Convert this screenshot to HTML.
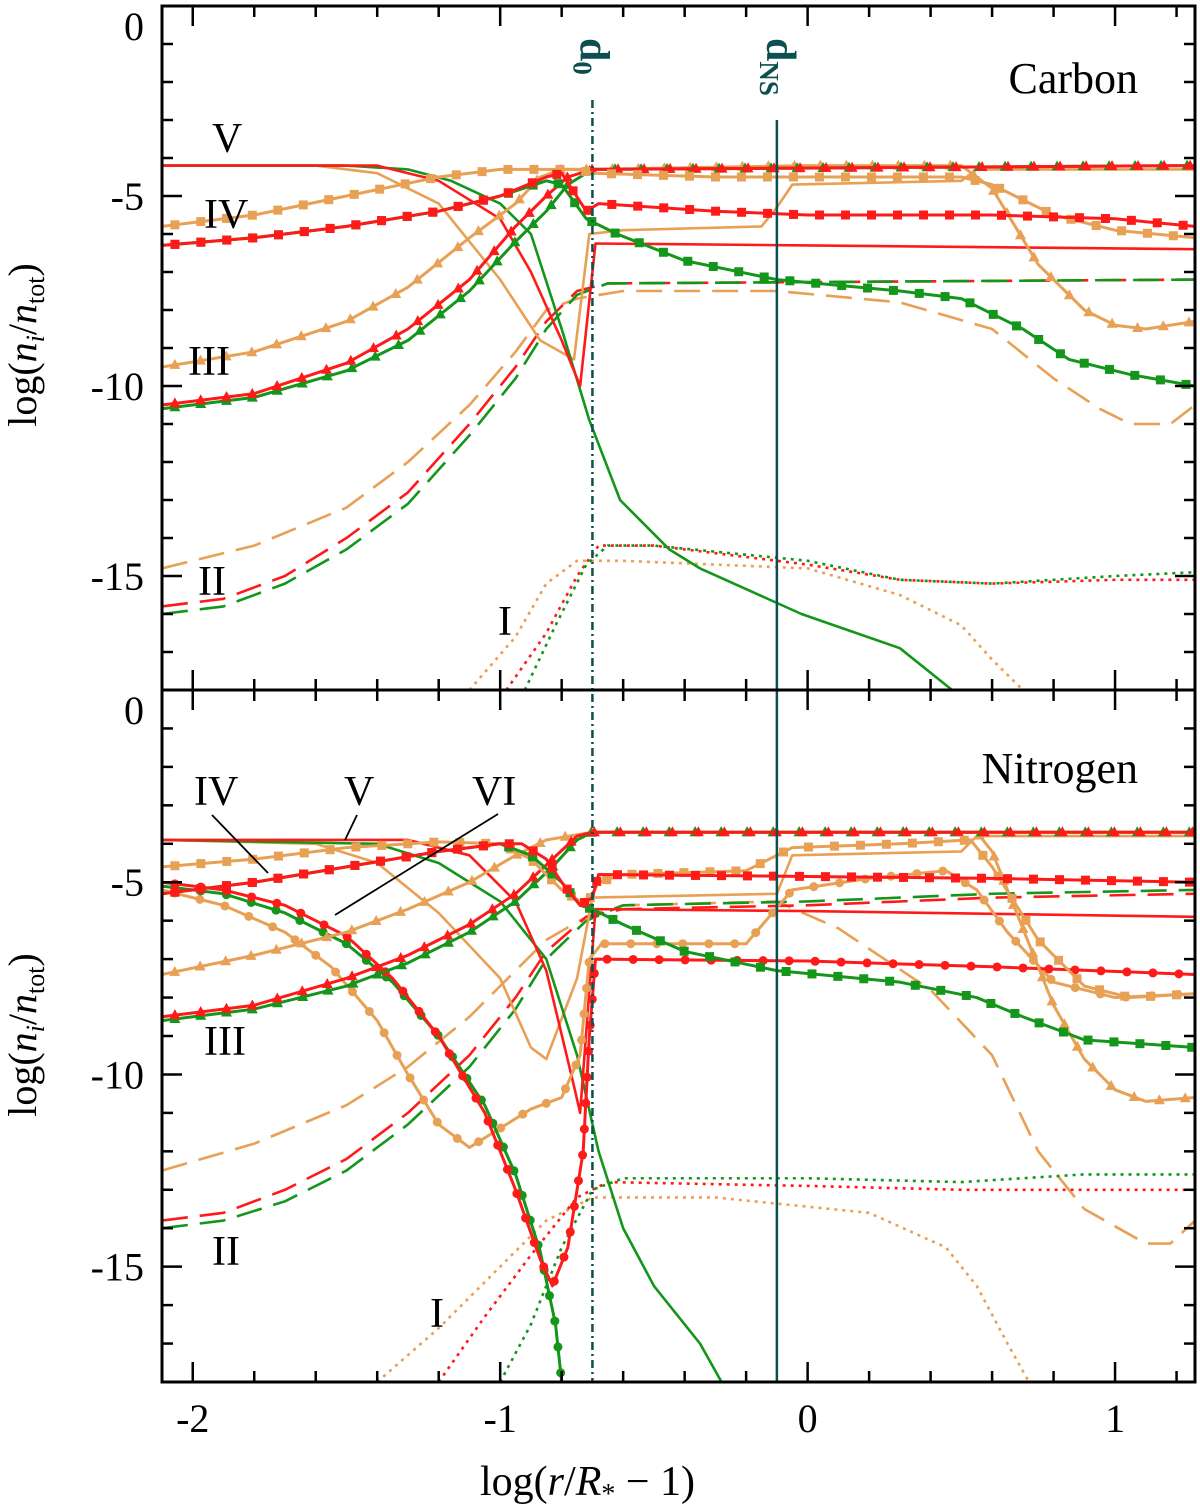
<!DOCTYPE html>
<html><head><meta charset="utf-8"><style>
body{margin:0;background:#fff}
svg{display:block;font-family:"Liberation Serif",serif}
</style></head><body>
<svg id="chart" width="1200" height="1511" viewBox="0 0 1200 1511" xmlns="http://www.w3.org/2000/svg"></svg>
<script>
// ---- data (x = log(r/R*-1), y = log(ni/ntot)) ----
const xTicks=[-2,-1,0,1];
const yTicks=[0,-5,-10,-15];
const d0X=-0.70, dnsX=-0.10;
// Carbon
const cRedV=[[-2.1,-4.2],[-1.4,-4.2],[-1.2,-4.6],[-1.0,-5.6],[-0.9,-7],[-0.8,-8.8],[-0.74,-10],[-0.69,-6.25],[0,-6.3],[1.26,-6.4]];
const cGreenV=[[-2.1,-4.2],[-1.5,-4.2],[-1.3,-4.3],[-1.16,-4.6],[-1.0,-5.2],[-0.9,-6],[-0.8,-8.5],[-0.71,-10.9],[-0.61,-13],[-0.45,-14.3],[-0.35,-14.8],[-0.02,-16],[0.3,-16.9],[0.47,-18]];
const cOrangeV=[[-2.1,-4.2],[-1.6,-4.2],[-1.4,-4.4],[-1.2,-5.2],[-1.0,-7.2],[-0.87,-8.8],[-0.76,-9.3],[-0.71,-6],[-0.6,-5.9],[-0.15,-5.8],[-0.1,-5.3],[-0.05,-4.7],[0.5,-4.6],[0.55,-4.3],[1.26,-4.3]];
const cOrangeSq=[[-2.1,-5.8],[-1.8,-5.5],[-1.5,-5],[-1.2,-4.5],[-1,-4.3],[-0.85,-4.3],[-0.75,-4.3],[-0.7,-4.4],[-0.3,-4.5],[0,-4.5],[0.5,-4.5],[0.6,-4.7],[0.8,-5.5],[1.0,-5.9],[1.26,-6.1]];
const cRedSq=[[-2.1,-6.3],[-1.8,-6.1],[-1.5,-5.8],[-1.2,-5.4],[-1.0,-5],[-0.85,-4.5],[-0.8,-4.4],[-0.72,-5.4],[-0.68,-5.2],[-0.3,-5.4],[0,-5.5],[0.6,-5.5],[1,-5.6],[1.26,-5.8]];
const cGreenSq=[[-2.1,-6.3],[-1.8,-6.1],[-1.5,-5.8],[-1.2,-5.4],[-1.0,-5.0],[-0.85,-4.6],[-0.8,-4.7],[-0.72,-5.6],[-0.62,-6.0],[-0.4,-6.7],[-0.1,-7.2],[0.3,-7.5],[0.5,-7.7],[0.7,-8.5],[0.85,-9.3],[1.05,-9.7],[1.26,-10]];
const cOrangeTri=[[-2.1,-9.5],[-1.8,-9.1],[-1.5,-8.3],[-1.3,-7.4],[-1.1,-6.1],[-0.95,-5.2],[-0.87,-4.5],[-0.8,-4.3],[-0.7,-4.3],[0,-4.2],[0.5,-4.2],[0.6,-4.8],[0.75,-6.8],[0.9,-8],[1.0,-8.4],[1.1,-8.5],[1.26,-8.3]];
const cRedTri=[[-2.1,-10.5],[-1.8,-10.2],[-1.5,-9.4],[-1.3,-8.5],[-1.1,-7.2],[-0.95,-5.8],[-0.85,-5.0],[-0.78,-4.5],[-0.7,-4.3],[1.26,-4.2]];
const cGreenTri=[[-2.1,-10.6],[-1.8,-10.3],[-1.5,-9.6],[-1.3,-8.8],[-1.1,-7.5],[-0.95,-6.2],[-0.85,-5.4],[-0.78,-4.7],[-0.7,-4.3],[1.26,-4.2]];
const cOrangeDash=[[-2.1,-14.8],[-1.8,-14.2],[-1.5,-13.2],[-1.3,-12],[-1.1,-10.5],[-0.95,-9.1],[-0.85,-8],[-0.75,-7.7],[-0.6,-7.5],[-0.1,-7.5],[0.3,-7.8],[0.6,-8.5],[0.8,-9.8],[0.95,-10.6],[1.05,-11],[1.18,-11],[1.26,-10.5]];
const cRedDash=[[-2.1,-15.8],[-1.9,-15.6],[-1.7,-15],[-1.5,-14],[-1.3,-12.8],[-1.1,-11],[-0.95,-9.5],[-0.85,-8.3],[-0.75,-7.5],[-0.65,-7.3],[1.26,-7.2]];
const cGreenDash=[[-2.1,-16],[-1.9,-15.8],[-1.7,-15.2],[-1.5,-14.3],[-1.3,-13.1],[-1.1,-11.3],[-0.95,-9.8],[-0.85,-8.5],[-0.75,-7.6],[-0.65,-7.3],[1.26,-7.2]];
const cOrangeDot=[[-1.1,-18],[-0.95,-16.6],[-0.85,-15.2],[-0.75,-14.6],[-0.6,-14.6],[0,-14.8],[0.3,-15.5],[0.5,-16.3],[0.6,-17.2],[0.7,-18]];
const cRedDot=[[-0.98,-18],[-0.85,-16.5],[-0.75,-15],[-0.68,-14.2],[-0.5,-14.2],[0,-14.7],[0.3,-15.1],[0.6,-15.2],[1.0,-15.1],[1.26,-15.1]];
const cGreenDot=[[-0.92,-18],[-0.82,-16.3],[-0.72,-14.7],[-0.65,-14.2],[-0.5,-14.2],[0,-14.6],[0.3,-15.1],[0.6,-15.2],[1.0,-15],[1.26,-14.9]];
// Nitrogen
const nRedV=[[-2.1,-3.9],[-1.3,-3.9],[-1.1,-4.3],[-0.95,-5.5],[-0.85,-7.3],[-0.76,-10.3],[-0.74,-11],[-0.69,-5.7],[0,-5.75],[1.26,-5.9]];
const nGreenV=[[-2.1,-3.9],[-1.4,-4],[-1.2,-4.5],[-1,-5.5],[-0.85,-7],[-0.75,-9.5],[-0.68,-12],[-0.6,-14],[-0.5,-15.5],[-0.35,-17],[-0.28,-18]];
const nOrangeV=[[-2.1,-3.9],[-1.6,-4.0],[-1.4,-4.5],[-1.2,-5.8],[-1.0,-7.5],[-0.9,-9.3],[-0.85,-9.6],[-0.75,-7.5],[-0.7,-5.4],[-0.1,-5.3],[-0.05,-4.3],[0.5,-4.2],[0.55,-3.8],[1.26,-3.8]];
const nOrangeCirc=[[-2.1,-5.2],[-1.9,-5.6],[-1.7,-6.3],[-1.55,-7.2],[-1.4,-8.6],[-1.3,-10],[-1.2,-11.3],[-1.1,-11.9],[-1.0,-11.4],[-0.9,-10.9],[-0.8,-10.6],[-0.74,-9.5],[-0.71,-7],[-0.67,-6.6],[-0.2,-6.6],[-0.05,-5.2],[0.2,-4.9],[0.45,-4.7],[0.55,-5.2],[0.65,-6.3],[0.8,-7.6],[1.0,-8.0],[1.26,-7.9]];
const nOrangeSq=[[-2.1,-4.6],[-1.8,-4.4],[-1.5,-4.1],[-1.2,-3.95],[-1.0,-4.0],[-0.9,-4.4],[-0.8,-5.2],[-0.72,-5.6],[-0.68,-5.0],[-0.6,-4.8],[-0.2,-4.7],[-0.05,-4.1],[0.3,-4.0],[0.53,-3.9],[0.6,-4.6],[0.75,-6.5],[0.9,-7.7],[1.05,-8.0],[1.26,-7.9]];
const nRedSq=[[-2.1,-5.3],[-1.8,-5.0],[-1.5,-4.6],[-1.2,-4.2],[-1.0,-4.0],[-0.93,-4.0],[-0.85,-4.4],[-0.8,-5.0],[-0.74,-5.6],[-0.7,-5.4],[-0.68,-4.8],[0,-4.85],[0.6,-4.9],[1.26,-5.0]];
const nGreenSq=[[-2.1,-5.3],[-1.8,-5.0],[-1.5,-4.6],[-1.2,-4.2],[-1.0,-4.0],[-0.9,-4.3],[-0.8,-5.0],[-0.74,-5.6],[-0.7,-5.7],[-0.6,-6.1],[-0.4,-6.8],[-0.1,-7.3],[0.3,-7.6],[0.55,-8.0],[0.7,-8.5],[0.9,-9.1],[1.26,-9.3]];
const nRedCirc=[[-2.1,-5.0],[-1.9,-5.2],[-1.7,-5.6],[-1.5,-6.4],[-1.35,-7.5],[-1.2,-9],[-1.05,-11],[-0.95,-13],[-0.87,-14.8],[-0.83,-15.5],[-0.78,-14.5],[-0.73,-12],[-0.71,-9],[-0.69,-7],[0,-7.05],[0.6,-7.2],[1.26,-7.4]];
const nGreenCirc=[[-2.1,-5.1],[-1.9,-5.3],[-1.7,-5.8],[-1.5,-6.6],[-1.35,-7.6],[-1.2,-9],[-1.05,-10.8],[-0.95,-12.6],[-0.87,-14.6],[-0.82,-16.5],[-0.8,-18]];
const nOrangeTri=[[-2.1,-7.4],[-1.8,-6.9],[-1.5,-6.3],[-1.3,-5.7],[-1.1,-5.0],[-0.95,-4.3],[-0.85,-3.9],[-0.7,-3.7],[0.55,-3.7],[0.6,-4.2],[0.7,-6.2],[0.8,-8.2],[0.9,-9.6],[1.0,-10.4],[1.1,-10.7],[1.26,-10.6]];
const nRedTri=[[-2.1,-8.5],[-1.8,-8.2],[-1.5,-7.5],[-1.3,-6.9],[-1.1,-6.1],[-0.95,-5.3],[-0.83,-4.4],[-0.75,-3.8],[-0.7,-3.7],[1.26,-3.7]];
const nGreenTri=[[-2.1,-8.6],[-1.8,-8.3],[-1.5,-7.7],[-1.3,-7.1],[-1.1,-6.3],[-0.95,-5.5],[-0.83,-4.6],[-0.75,-3.9],[-0.7,-3.7],[1.26,-3.7]];
const nOrangeDash=[[-2.1,-12.5],[-1.8,-11.8],[-1.5,-10.8],[-1.3,-9.8],[-1.1,-8.5],[-0.95,-7.3],[-0.85,-6.5],[-0.72,-5.9],[-0.6,-5.6],[-0.1,-5.5],[0.1,-6.2],[0.4,-7.8],[0.6,-9.5],[0.75,-12],[0.9,-13.5],[1.1,-14.4],[1.18,-14.4],[1.26,-13.8]];
const nRedDash=[[-2.1,-13.8],[-1.9,-13.6],[-1.7,-13.0],[-1.5,-12.2],[-1.3,-11],[-1.1,-9.5],[-0.95,-8],[-0.85,-6.8],[-0.72,-5.9],[-0.6,-5.7],[0,-5.6],[0.6,-5.4],[1.26,-5.3]];
const nGreenDash=[[-2.1,-14],[-1.9,-13.8],[-1.7,-13.3],[-1.5,-12.5],[-1.3,-11.3],[-1.1,-9.8],[-0.95,-8.3],[-0.85,-7],[-0.72,-6],[-0.6,-5.6],[0,-5.5],[0.6,-5.3],[1.26,-5.2]];
const nOrangeDot=[[-1.4,-18],[-1.2,-16.6],[-1.0,-15],[-0.85,-13.8],[-0.7,-13.2],[-0.3,-13.2],[0.2,-13.6],[0.45,-14.5],[0.55,-15.5],[0.65,-17],[0.72,-18]];
const nRedDot=[[-1.2,-18],[-1.05,-16.3],[-0.9,-14.7],[-0.75,-13.2],[-0.65,-12.8],[0,-12.9],[0.5,-13],[1.26,-13]];
const nGreenDot=[[-1.0,-18],[-0.9,-16.5],[-0.8,-14.5],[-0.7,-13],[-0.6,-12.7],[0,-12.7],[0.5,-12.8],[0.9,-12.6],[1.26,-12.6]];

const NS="http://www.w3.org/2000/svg";
const svg=document.getElementById('chart');
const L=162,R=1195,XMIN=-2.1,XMAX=1.26;
const panels=[{top:6,bot:690},{top:690,bot:1382}];
function sx(x){return L+(x-XMIN)/(XMAX-XMIN)*(R-L);}
function sy(p,y){const P=panels[p];return P.top+(0-y)/18*(P.bot-P.top);}
function mk(tag,attrs,parent){const e=document.createElementNS(NS,tag);for(const k in attrs)e.setAttribute(k,attrs[k]);(parent||svg).appendChild(e);return e;}
const OR='#e8a055',RD='#ff1a1a',GR='#13961a';
for(let p=0;p<2;p++){
  const cp=mk('clipPath',{id:'clip'+p});
  mk('rect',{x:L,y:panels[p].top,width:R-L,height:panels[p].bot-panels[p].top},cp);
}
function marker(g,type,x,y,col){
  let e;
  if(type==='sq')e=mk('rect',{x:x-4.5,y:y-4.5,width:9,height:9,fill:col},g);
  else if(type==='ci')e=mk('circle',{cx:x,cy:y,r:4.5,fill:col},g);
  else e=mk('polygon',{points:`${x},${y-6} ${x-5.5},${y+4} ${x+5.5},${y+4}`,fill:col},g);
  
  
}
function curve(p,data,col,style,mtype,name){
  const g=mk('g',{'clip-path':`url(#clip${p})`});
  
  
  const pts=data.map(d=>[sx(d[0]),sy(p,d[1])]);
  const a={points:pts.map(q=>q.join(',')).join(' '),fill:'none',stroke:col,'stroke-width':mtype?3:2.6,'stroke-linejoin':'round'};
  if(style==='dash')a['stroke-dasharray']='26,12';
  if(style==='dot'){a['stroke-dasharray']='3,5';a['stroke-width']=2.6;}
  const pl=mk('polyline',a,g);
  
  
  if(mtype){
    const step=26;let acc=0,next=step/2;
    for(let i=1;i<pts.length;i++){
      const dx=pts[i][0]-pts[i-1][0],dy=pts[i][1]-pts[i-1][1],len=Math.hypot(dx,dy);
      while(next<=acc+len){const t=(next-acc)/len;marker(g,mtype,pts[i-1][0]+t*dx,pts[i-1][1]+t*dy,col);next+=step;}
      acc+=len;
    }
  }
}
const series=[
 [0,cOrangeDash,OR,'dash',null,'carbon-ii-orange'],[0,cRedDash,RD,'dash',null,'carbon-ii-red'],[0,cGreenDash,GR,'dash',null,'carbon-ii-green'],
 [0,cOrangeDot,OR,'dot',null,'carbon-i-orange'],[0,cRedDot,RD,'dot',null,'carbon-i-red'],[0,cGreenDot,GR,'dot',null,'carbon-i-green'],
 [0,cOrangeV,OR,'solid',null,'carbon-v-orange'],[0,cGreenV,GR,'solid',null,'carbon-v-green'],[0,cRedV,RD,'solid',null,'carbon-v-red'],
 [0,cOrangeTri,OR,'solid','tri','carbon-iii-orange'],[0,cGreenTri,GR,'solid','tri','carbon-iii-green'],[0,cRedTri,RD,'solid','tri','carbon-iii-red'],
 [0,cOrangeSq,OR,'solid','sq','carbon-iv-orange'],[0,cGreenSq,GR,'solid','sq','carbon-iv-green'],[0,cRedSq,RD,'solid','sq','carbon-iv-red'],
 [1,nOrangeDash,OR,'dash',null,'nitrogen-ii-orange'],[1,nRedDash,RD,'dash',null,'nitrogen-ii-red'],[1,nGreenDash,GR,'dash',null,'nitrogen-ii-green'],
 [1,nOrangeDot,OR,'dot',null,'nitrogen-i-orange'],[1,nRedDot,RD,'dot',null,'nitrogen-i-red'],[1,nGreenDot,GR,'dot',null,'nitrogen-i-green'],
 [1,nOrangeV,OR,'solid',null,'nitrogen-v-orange'],[1,nGreenV,GR,'solid',null,'nitrogen-v-green'],[1,nRedV,RD,'solid',null,'nitrogen-v-red'],
 [1,nOrangeCirc,OR,'solid','ci','nitrogen-vi-orange'],[1,nGreenCirc,GR,'solid','ci','nitrogen-vi-green'],[1,nRedCirc,RD,'solid','ci','nitrogen-vi-red'],
 [1,nOrangeTri,OR,'solid','tri','nitrogen-iii-orange'],[1,nGreenTri,GR,'solid','tri','nitrogen-iii-green'],[1,nRedTri,RD,'solid','tri','nitrogen-iii-red'],
 [1,nOrangeSq,OR,'solid','sq','nitrogen-iv-orange'],[1,nGreenSq,GR,'solid','sq','nitrogen-iv-green'],[1,nRedSq,RD,'solid','sq','nitrogen-iv-red'],
];
series.forEach(s=>curve(...s));
// vertical lines
const TEAL='#0b4f50';
let v=mk('line',{x1:sx(d0X),x2:sx(d0X),y1:100,y2:1382,stroke:TEAL,'stroke-width':2.5,'stroke-dasharray':'8,4,2,4'});

v=mk('line',{x1:sx(dnsX),x2:sx(dnsX),y1:120,y2:1382,stroke:TEAL,'stroke-width':2.5});

function rotLabel(x,y,main,sub,name){
  const t=mk('text',{transform:`translate(${x},${y}) rotate(90)`,'font-size':42,'font-weight':'bold',fill:TEAL,'text-anchor':'start'});
  
  t.innerHTML=`${main}<tspan font-size="27" dy="7">${sub}</tspan>`;
}
rotLabel(sx(d0X)-12,38,'d','0','d0-label');
rotLabel(sx(dnsX)-10,38,'d','NS','dns-label');
// frame + ticks
for(let p=0;p<2;p++){
  const P=panels[p];
  const fr=mk('rect',{x:L,y:P.top,width:R-L,height:P.bot-P.top,fill:'none',stroke:'#000','stroke-width':3});
  
  for(let y=0;y>=-18;y--){
    const len=(y%5===0)?20:11;const yy=sy(p,y);
    mk('line',{x1:L,x2:L+len,y1:yy,y2:yy,stroke:'#000','stroke-width':2.5});
    mk('line',{x1:R-len,x2:R,y1:yy,y2:yy,stroke:'#000','stroke-width':2.5});
  }
  yTicks.forEach(y=>{const t=mk('text',{x:L-18,y:sy(p,y)+14+(y===0?20:0),'font-size':40,'text-anchor':'end'});t.textContent=y;
    });
  for(let k=-21;k<=12;k++){const x=k/10;const xx=sx(x);if(xx<L||xx>R)continue;
    const len=(k%10===0)?20:(k%2===0?11:0);if(!len)continue;
    mk('line',{x1:xx,x2:xx,y1:P.top,y2:P.top+len,stroke:'#000','stroke-width':2.5});
    mk('line',{x1:xx,x2:xx,y1:P.bot-len,y2:P.bot,stroke:'#000','stroke-width':2.5});
  }
}
xTicks.forEach(x=>{const t=mk('text',{x:sx(x),y:1432,'font-size':40,'text-anchor':'middle'});t.textContent=x;
  });
</script>
<svg style="position:absolute;left:0;top:0" width="1200" height="1511" xmlns="http://www.w3.org/2000/svg" font-family="Liberation Serif, serif">
<text x="480" y="1495" font-size="42">log(<tspan font-style="italic">r</tspan>/<tspan font-style="italic">R</tspan><tspan font-size="28" dy="8">*</tspan><tspan dy="-8"> − 1)</tspan></text>
<text transform="translate(36,345) rotate(-90)" font-size="40" text-anchor="middle">log(<tspan font-style="italic">n<tspan font-size="26" dy="8">i</tspan></tspan><tspan dy="-8">/</tspan><tspan font-style="italic">n</tspan><tspan font-size="26" dy="8">tot</tspan><tspan dy="-8">)</tspan></text>
<text transform="translate(36,1035) rotate(-90)" font-size="40" text-anchor="middle">log(<tspan font-style="italic">n<tspan font-size="26" dy="8">i</tspan></tspan><tspan dy="-8">/</tspan><tspan font-style="italic">n</tspan><tspan font-size="26" dy="8">tot</tspan><tspan dy="-8">)</tspan></text>
<text x="1138" y="93" font-size="44" text-anchor="end">Carbon</text>
<text x="1138" y="783" font-size="44" text-anchor="end">Nitrogen</text>
<g font-size="42">
<text x="212" y="152">V</text>
<text x="204" y="228">IV</text>
<text x="188" y="375">III</text>
<text x="198" y="595">II</text>
<text x="498" y="635">I</text>
<text x="194" y="805">IV</text>
<text x="344" y="805">V</text>
<text x="472" y="805">VI</text>
<text x="204" y="1055">III</text>
<text x="212" y="1265">II</text>
<text x="430" y="1327">I</text>
</g>
<g stroke="#000" stroke-width="1.8">
<line x1="212" y1="815" x2="268" y2="873"/>
<line x1="357" y1="815" x2="345" y2="840"/>
<line x1="498" y1="814" x2="335" y2="915"/>
</g>
</svg>
</body></html>
